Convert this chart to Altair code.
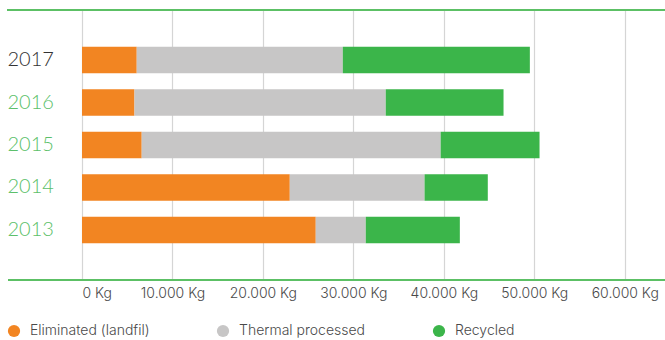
import altair as alt
import pandas as pd

years = ["2017", "2016", "2015", "2014", "2013"]
landfill = [6050, 5800, 6600, 22970, 25840]
thermal = [22780, 27780, 33050, 14900, 5530]
recycled = [20680, 13020, 10930, 6990, 10400]
categories = ["Eliminated (landfil)", "Thermal processed", "Recycled"]
colors = ["#F28522", "#C7C6C6", "#3BB54A"]
x_ticks = [0, 10000, 20000, 30000, 40000, 50000, 60000]

rows = []
for i, y in enumerate(years):
    for k, (cat, vals) in enumerate(zip(categories, [landfill, thermal, recycled])):
        rows.append({"year": y, "category": cat, "value": vals[i], "order": k})
df = pd.DataFrame(rows)

FONT = "Lato"
SMALL_FONT = "Inter"
GREEN_LINE = "#5CC065"

bars = alt.Chart(df).mark_bar(opacity=1).encode(
    x=alt.X(
        "value:Q",
        stack="zero",
        scale=alt.Scale(domain=[0, 64450], nice=False, zero=True),
        axis=alt.Axis(
            values=x_ticks,
            title=None,
            domain=False,
            ticks=False,
            tickSize=0,
            labelPadding=6,
            labelFont=SMALL_FONT,
            labelFontSize=14,
            labelFontWeight=300,
            labelColor="#4A4A4A",
            labelExpr="replace(format(datum.value, ','), ',', '.') + ' Kg'",
            grid=True,
            gridColor="#D5D5D5",
            gridWidth=1.2,
        ),
    ),
    y=alt.Y(
        "year:N",
        sort=years,
        scale=alt.Scale(paddingInner=0.376, paddingOuter=0.865),
        axis=alt.Axis(
            title=None,
            domain=False,
            ticks=False,
            tickSize=0,
            grid=False,
            labelAlign="left",
            labelBaseline="middle",
            labelPadding=75,
            labelFont=FONT,
            labelFontSize=20,
            labelFontWeight=300,
            labelColor=alt.expr("datum.value == '2017' ? '#333333' : '#5CBF6A'"),
        ),
    ),
    color=alt.Color(
        "category:N",
        scale=alt.Scale(domain=categories, range=colors),
        legend=alt.Legend(
            title=None,
            orient="none",
            legendX=-75,
            legendY=314,
            direction="horizontal",
            columns=3,
            columnPadding=66,
            padding=0,
            symbolType="circle",
            symbolSize=150,
            symbolStrokeWidth=0,
            symbolOpacity=1,
            labelFont=SMALL_FONT,
            labelFontSize=14,
            labelFontWeight=300,
            labelColor="#4A4A4A",
            labelOffset=9,
        ),
    ),
    order=alt.Order("order:Q"),
)

top_line = alt.Chart(df).mark_rule(color=GREEN_LINE, strokeWidth=2).encode(
    x=alt.value(-75), x2=alt.value(583), y=alt.value(0)
)
bottom_line = alt.Chart(df).mark_rule(color=GREEN_LINE, strokeWidth=2).encode(
    x=alt.value(-74), x2=alt.value(583), y=alt.value(270)
)

chart = (
    alt.layer(bars, top_line, bottom_line)
    .properties(
        width=583,
        height=270,
        autosize=alt.AutoSizeParams(type="none"),
        padding={"left": 82, "top": 10, "right": 0, "bottom": 60},
        background="white",
    )
    .configure_view(stroke=None)
)

chart.save("out.html", embed_options={"renderer": "svg", "actions": False})
